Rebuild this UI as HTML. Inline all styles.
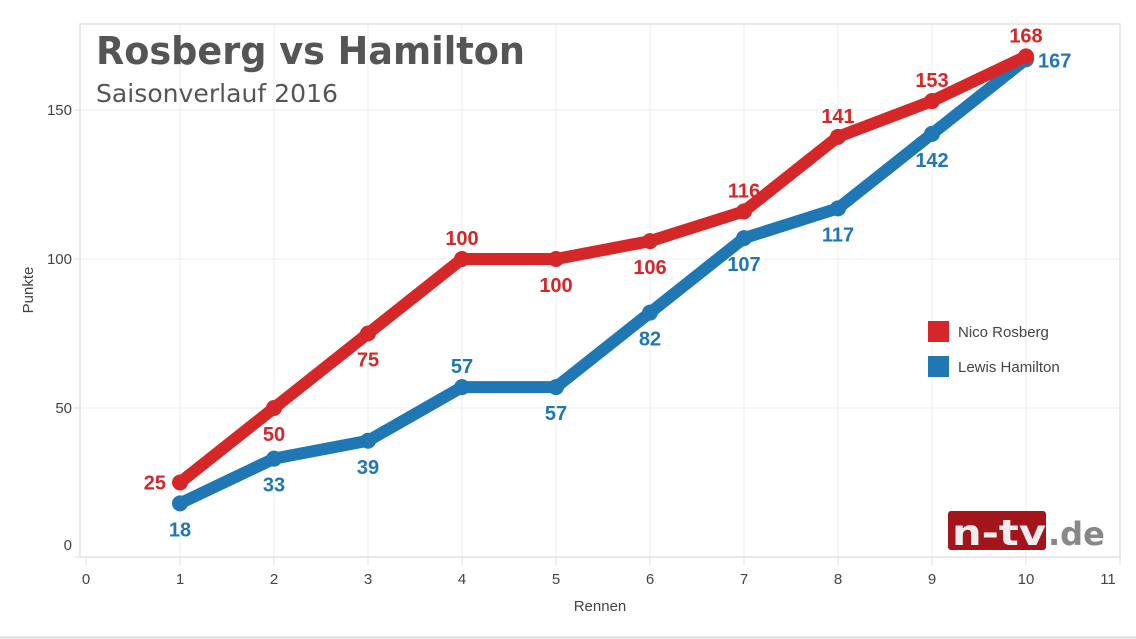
<!DOCTYPE html>
<html><head><meta charset="utf-8"><style>
html,body{margin:0;padding:0;background:#fff;}
svg{display:block;font-family:"Liberation Sans",Arial,sans-serif;}
</style></head><body>
<svg id="chart" width="1136" height="639" viewBox="0 0 1136 639" xmlns="http://www.w3.org/2000/svg">
<rect x="0" y="0" width="1136" height="639" fill="#fff"/>
<line x1="0" y1="637.5" x2="1136" y2="637.5" stroke="#ddd" stroke-width="2"/>
<g id="grid"></g>
<rect x="80" y="24" width="1040" height="533" fill="none" stroke="#e2e2e2" stroke-width="1.5"/>
<text x="96" y="64" font-family="'DejaVu Sans',sans-serif" font-weight="bold" font-size="38" fill="#555" textLength="429" lengthAdjust="spacingAndGlyphs">Rosberg vs Hamilton</text>
<text x="96" y="102" font-family="'DejaVu Sans',sans-serif" font-size="25" fill="#555" textLength="242" lengthAdjust="spacingAndGlyphs">Saisonverlauf 2016</text>
<g id="axes"></g>
<g id="series"></g>
<text x="600" y="611" text-anchor="middle" font-size="15" fill="#444">Rennen</text>
<text transform="translate(33,290) rotate(-90)" text-anchor="middle" font-size="15" fill="#444">Punkte</text>
<g>
<g><rect x="928" y="321" width="21" height="21" fill="#d62728"/><text x="958" y="337" font-size="15" fill="#444">Nico Rosberg</text></g>
<g><rect x="928" y="356" width="21" height="21" fill="#1f77b4"/><text x="958" y="372" font-size="15" fill="#444">Lewis Hamilton</text></g>
</g>
<g>
<rect x="948" y="511" width="98" height="39" rx="3" fill="#a3151b"/>
<text x="952" y="545" font-family="'DejaVu Sans',sans-serif" font-weight="bold" font-size="36" fill="#eee" textLength="94" lengthAdjust="spacingAndGlyphs">n-tv</text>
<text x="1048" y="545" font-family="'DejaVu Sans',sans-serif" font-weight="bold" font-size="32" fill="#888">.de</text>
</g>
</svg>
<script>
const races = [1,2,3,4,5,6,7,8,9,10];
const rosberg = [25,50,75,100,100,106,116,141,153,168];
const hamilton = [18,33,39,57,57,82,107,117,142,167];
const rosbergLabelPos = ['left','below','below','above','below','below','above','above','above','above'];
const hamiltonLabelPos = ['below','below','below','above','below','below','below','below','below','right'];
const xTicks = [0,1,2,3,4,5,6,7,8,9,10,11];
const yTicks = [0,50,100,150];

const NS='http://www.w3.org/2000/svg';
function xs(v){return 86+v*94;}
function ys(v){return 557-v*2.98;}
function mk(tag,attrs,parent){const e=document.createElementNS(NS,tag);for(const k in attrs)e.setAttribute(k,attrs[k]);parent.appendChild(e);return e;}
const grid=document.getElementById('grid'),axes=document.getElementById('axes'),series=document.getElementById('series');
xTicks.forEach(t=>{
  if(t>0&&t<11){const l=mk('line',{x1:xs(t),x2:xs(t),y1:24,y2:557,stroke:'#ececec','stroke-width':1},grid);
  
  }
  const tk=mk('line',{x1:xs(t),x2:xs(t),y1:557,y2:565,stroke:'#ddd','stroke-width':1},axes);
  
  
  const tx=mk('text',{x:Math.min(xs(t),1108),y:584,'text-anchor':'middle','font-size':15,fill:'#444'},axes);
  tx.textContent=t;
  
  
});
yTicks.forEach(t=>{
  if(t>0){const l=mk('line',{x1:80,x2:1120,y1:ys(t),y2:ys(t),stroke:'#ececec','stroke-width':1},grid);
  
  }
  const tk=mk('line',{x1:74,x2:80,y1:ys(t),y2:ys(t),stroke:'#ddd','stroke-width':1},axes);
  
  
  const tx=mk('text',{x:72,y:(t===0?ys(t)-7:ys(t)+5),'text-anchor':'end','font-size':15,fill:'#444'},axes);
  tx.textContent=t;
  
  
});
function drawSeries(vals,pos,color,name){
  const pts=races.map((r,i)=>xs(r)+','+ys(vals[i])).join(' ');
  const pl=mk('polyline',{points:pts,fill:'none',stroke:color,'stroke-width':12,'stroke-linejoin':'round','stroke-linecap':'round'},series);
  
  
  races.forEach((r,i)=>{
    const c=mk('circle',{cx:xs(r),cy:ys(vals[i]),r:8,fill:color},series);
    
    
    let x=xs(r),y=ys(vals[i]),a='middle';
    const p=pos[i];
    if(p==='above'){y-=14;}else if(p==='below'){y+=33;}else if(p==='left'){x-=14;y+=7;a='end';}else{x+=12;y+=8;a='start';}
    if(p==='above'||p==='below'){x+=(name==='rosberg'?0:0);}
    const t=mk('text',{x:x,y:y,'text-anchor':a,'font-size':20,'font-weight':'bold',fill:color},series);
    t.textContent=vals[i];
    
    
  });
}
drawSeries(hamilton,hamiltonLabelPos,'#1f77b4','hamilton');
drawSeries(rosberg,rosbergLabelPos,'#d62728','rosberg');
</script>
</body></html>
